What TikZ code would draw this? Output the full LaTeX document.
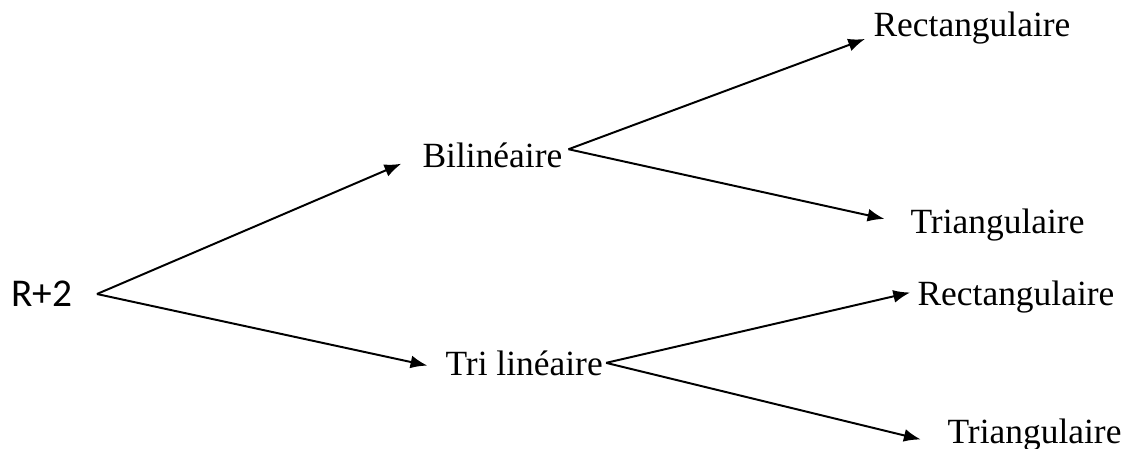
\documentclass[tikz,border=0pt]{standalone}
\usepackage{fontspec}
\setmainfont{Liberation Serif}
\newfontfamily\calibfont{Carlito}
\usetikzlibrary{arrows.meta}
\tikzset{
  fleche/.style={draw, line width=0.7pt, -{Latex[length=6pt,width=4.6pt]}},
  choix/.style={inner sep=0pt, font=\fontsize{12.6}{15}\selectfont}
}
\begin{document}
\begin{tikzpicture}[x=0.0125cm,y=-0.0125cm]
\useasboundingbox (0,0) rectangle (1133,448);
\node[inner ysep=0pt, inner xsep=8.5pt, font=\calibfont\fontsize{14}{16}\selectfont] (r2) at (42,294) {R+2};
% premier niveau
\node[choix, anchor=base west] (bil) at (422,167) {Bilinéaire};
\node[choix, anchor=base west] (tri) at (445,375) {Tri linéaire};
% second niveau
\node[choix, anchor=base west] (rect1) at (873,36) {Rectangulaire};
\node[choix, anchor=base west] (trg1) at (910,233) {Triangulaire};
\node[choix, anchor=base west] (rect2) at (917,305) {Rectangulaire};
\node[choix, anchor=base west] (trg2) at (947,443) {Triangulaire};

\draw[fleche, shorten >=8pt] (r2.east) -- (bil.west);
\draw[fleche, shorten >=6.4pt] (r2.east) -- ([yshift=2pt]tri.base west);
\draw[fleche, shorten >=3pt] ([shift={(2pt,2pt)}]bil.east) -- (rect1.base west);
\draw[fleche, shorten >=9.3pt] ([shift={(2pt,2pt)}]bil.east) -- (trg1.west);
\draw[fleche, shorten >=2.5pt] ([xshift=1pt]tri.east) -- ([yshift=2pt]rect2.west);
\draw[fleche, shorten >=9.6pt] ([xshift=1pt]tri.east) -- ([yshift=-1pt]trg2.base west);
\end{tikzpicture}
\end{document}
